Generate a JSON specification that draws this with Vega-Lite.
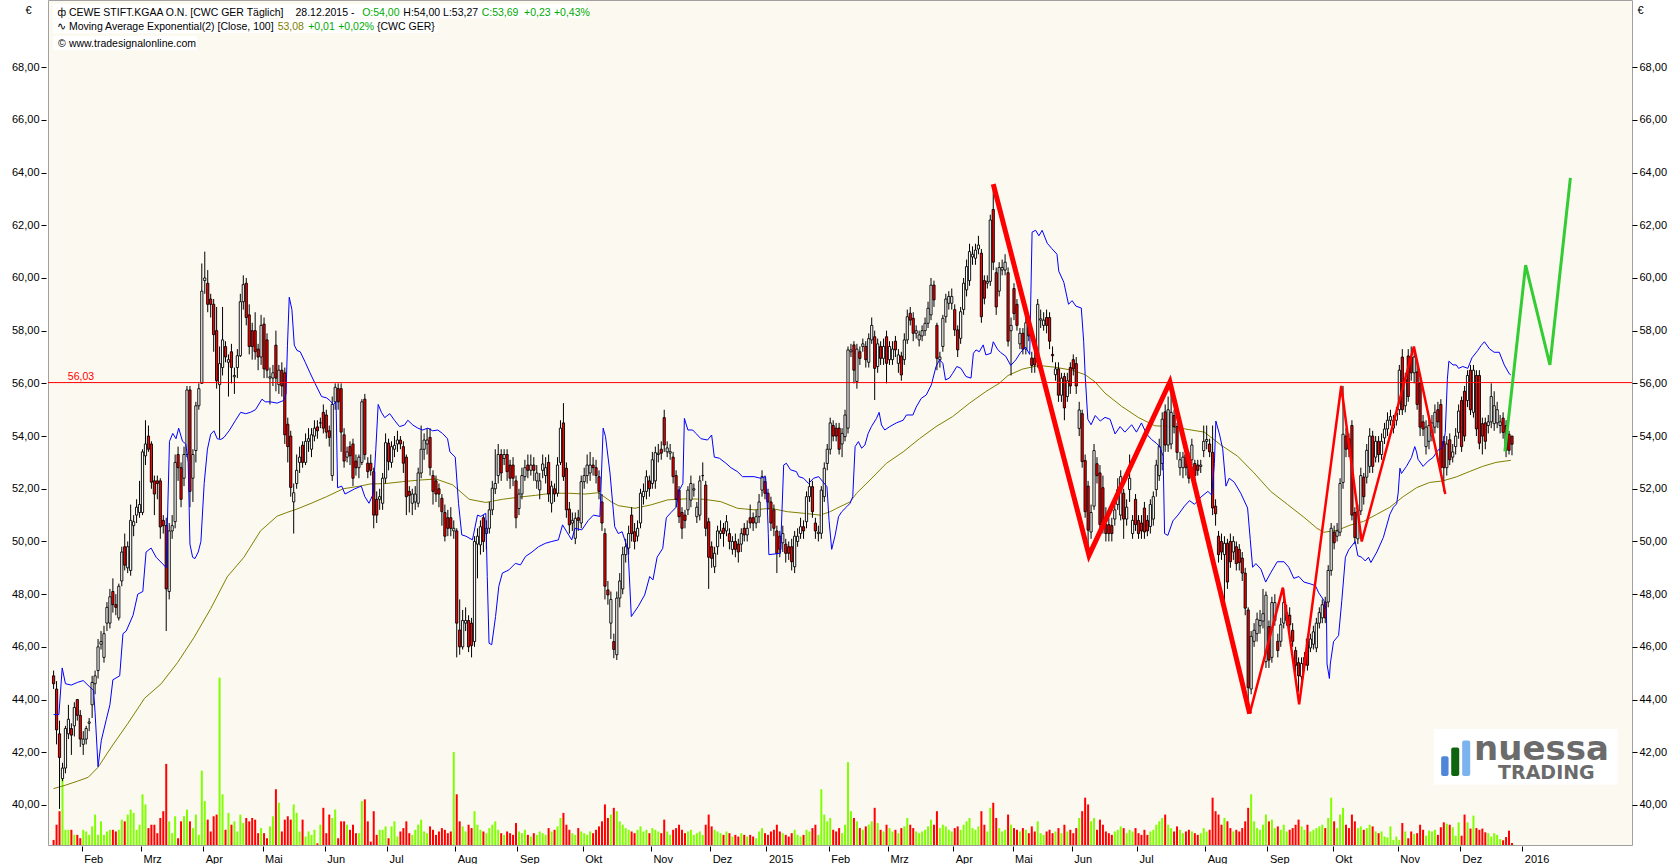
{
  "$schema": "https://vega.github.io/schema/vega-lite/v6.json",
  "description": "CEWE Stift.KGaA daily candles 2014-2015 with EMA(100), trailing band, volume, wave lines and projection",
  "width": 1584,
  "height": 845,
  "autosize": "none",
  "padding": {"left": 48, "top": 0, "right": 46, "bottom": 19},
  "background": "#ffffff",
  "config": {
    "font": "Liberation Sans",
    "view": {"fill": "#FCF9F1", "stroke": "#A0A0A0", "strokeWidth": 1},
    "axis": {
      "labelFont": "Liberation Sans", "labelFontSize": 11, "labelColor": "#000000",
      "tickColor": "#000000", "grid": false, "domain": false,
      "titleFont": "Liberation Sans", "titleFontSize": 11, "titleFontWeight": "normal", "titleColor": "#000000"
    }
  },
  "datasets": {
    "k": [
{"i":0,"o":44.9,"h":45.1,"l":44.4,"c":44.6,"v":3},
{"i":1,"o":44.4,"h":44.7,"l":42.3,"c":42.85,"v":12},
{"i":2,"o":42.7,"h":43.2,"l":39.85,"c":41.8,"v":20},
{"i":3,"o":41.0,"h":41.6,"l":40.9,"c":41.4,"v":45},
{"i":4,"o":41.4,"h":43.0,"l":41.2,"c":42.9,"v":9},
{"i":5,"o":42.7,"h":43.8,"l":42.5,"c":43.25,"v":9},
{"i":6,"o":42.9,"h":43.1,"l":41.9,"c":42.65,"v":9},
{"i":7,"o":43.0,"h":43.9,"l":42.6,"c":43.7,"v":6},
{"i":8,"o":44.0,"h":44.0,"l":43.2,"c":43.4,"v":6},
{"i":9,"o":43.4,"h":43.6,"l":42.2,"c":42.5,"v":4},
{"i":10,"o":42.3,"h":42.8,"l":41.9,"c":42.5,"v":9},
{"i":11,"o":42.5,"h":43.0,"l":42.3,"c":42.9,"v":8},
{"i":12,"o":43.1,"h":43.3,"l":42.8,"c":43.15,"v":6},
{"i":13,"o":43.8,"h":44.9,"l":43.3,"c":44.65,"v":11},
{"i":14,"o":44.6,"h":45.1,"l":44.2,"c":44.9,"v":18},
{"i":15,"o":45.1,"h":46.3,"l":44.8,"c":46.0,"v":6},
{"i":16,"o":46.1,"h":46.6,"l":45.9,"c":46.2,"v":14},
{"i":17,"o":45.6,"h":46.8,"l":45.4,"c":46.5,"v":6},
{"i":18,"o":46.9,"h":47.7,"l":46.6,"c":47.5,"v":8},
{"i":19,"o":46.9,"h":48.2,"l":46.7,"c":47.9,"v":9},
{"i":20,"o":48.1,"h":48.6,"l":47.3,"c":47.6,"v":9},
{"i":21,"o":47.6,"h":48.0,"l":47.2,"c":47.5,"v":8},
{"i":22,"o":47.1,"h":48.4,"l":47.0,"c":48.3,"v":9},
{"i":23,"o":48.5,"h":49.8,"l":48.3,"c":49.6,"v":15},
{"i":24,"o":49.8,"h":50.3,"l":48.9,"c":49.1,"v":14},
{"i":25,"o":49.0,"h":50.0,"l":48.8,"c":49.8,"v":18},
{"i":26,"o":48.9,"h":51.4,"l":48.7,"c":50.8,"v":21},
{"i":27,"o":50.6,"h":51.0,"l":50.2,"c":50.75,"v":19},
{"i":28,"o":51.0,"h":51.6,"l":50.7,"c":51.3,"v":9},
{"i":29,"o":51.1,"h":52.3,"l":50.9,"c":51.4,"v":12},
{"i":30,"o":51.1,"h":53.5,"l":51.0,"c":53.4,"v":30},
{"i":31,"o":53.25,"h":54.6,"l":52.9,"c":53.7,"v":24},
{"i":32,"o":54.0,"h":54.4,"l":53.4,"c":53.5,"v":10},
{"i":33,"o":53.7,"h":53.8,"l":52.0,"c":52.25,"v":12},
{"i":34,"o":52.3,"h":52.5,"l":51.0,"c":51.8,"v":12},
{"i":35,"o":52.3,"h":52.5,"l":51.6,"c":52.2,"v":7},
{"i":36,"o":52.3,"h":52.4,"l":50.1,"c":50.55,"v":16},
{"i":37,"o":50.8,"h":51.0,"l":50.3,"c":50.6,"v":20},
{"i":38,"o":50.6,"h":50.9,"l":46.6,"c":48.2,"v":48},
{"i":39,"o":48.1,"h":50.7,"l":47.8,"c":50.4,"v":14},
{"i":40,"o":50.4,"h":51.0,"l":50.1,"c":50.6,"v":7},
{"i":41,"o":50.75,"h":53.3,"l":50.5,"c":53.0,"v":17},
{"i":42,"o":53.3,"h":53.6,"l":52.3,"c":52.8,"v":4},
{"i":43,"o":52.8,"h":53.0,"l":51.3,"c":51.6,"v":14},
{"i":44,"o":52.4,"h":53.6,"l":52.1,"c":53.3,"v":17},
{"i":45,"o":53.3,"h":55.9,"l":53.2,"c":55.75,"v":21},
{"i":46,"o":55.75,"h":55.9,"l":51.3,"c":51.9,"v":14},
{"i":47,"o":52.4,"h":53.5,"l":51.5,"c":53.3,"v":10},
{"i":48,"o":53.45,"h":55.3,"l":53.0,"c":55.15,"v":18},
{"i":49,"o":55.15,"h":56.0,"l":55.0,"c":55.8,"v":6},
{"i":50,"o":56.0,"h":60.55,"l":56.0,"c":59.5,"v":44},
{"i":51,"o":59.9,"h":61.0,"l":59.4,"c":60.0,"v":26},
{"i":52,"o":59.8,"h":60.3,"l":58.7,"c":59.0,"v":15},
{"i":53,"o":59.2,"h":59.4,"l":58.5,"c":59.0,"v":8},
{"i":54,"o":59.0,"h":59.2,"l":57.2,"c":57.85,"v":17},
{"i":55,"o":58.0,"h":58.9,"l":55.8,"c":56.1,"v":18},
{"i":56,"o":55.95,"h":57.4,"l":53.9,"c":56.75,"v":99},
{"i":57,"o":56.6,"h":58.9,"l":56.3,"c":57.65,"v":30},
{"i":58,"o":57.4,"h":57.6,"l":56.8,"c":57.0,"v":9},
{"i":59,"o":56.8,"h":57.1,"l":55.5,"c":56.9,"v":19},
{"i":60,"o":57.2,"h":57.5,"l":56.0,"c":56.6,"v":12},
{"i":61,"o":56.25,"h":56.6,"l":55.6,"c":56.3,"v":14},
{"i":62,"o":56.6,"h":57.3,"l":56.2,"c":57.05,"v":8},
{"i":63,"o":57.05,"h":59.4,"l":57.0,"c":59.1,"v":18},
{"i":64,"o":59.1,"h":60.1,"l":58.8,"c":59.75,"v":13},
{"i":65,"o":59.8,"h":60.0,"l":58.2,"c":58.5,"v":16},
{"i":66,"o":58.6,"h":59.0,"l":57.1,"c":57.4,"v":14},
{"i":67,"o":58.0,"h":58.3,"l":56.9,"c":57.4,"v":16},
{"i":68,"o":58.0,"h":58.7,"l":56.9,"c":57.2,"v":15},
{"i":69,"o":57.3,"h":57.5,"l":56.5,"c":57.0,"v":7},
{"i":70,"o":57.0,"h":58.6,"l":56.7,"c":58.2,"v":10},
{"i":71,"o":58.25,"h":58.5,"l":56.2,"c":56.55,"v":7},
{"i":72,"o":57.65,"h":57.9,"l":56.2,"c":56.5,"v":4},
{"i":73,"o":56.2,"h":56.6,"l":55.2,"c":56.25,"v":11},
{"i":74,"o":56.2,"h":56.7,"l":55.9,"c":56.4,"v":17},
{"i":75,"o":57.45,"h":58.0,"l":55.7,"c":56.2,"v":33},
{"i":76,"o":55.95,"h":56.7,"l":55.6,"c":56.5,"v":25},
{"i":77,"o":56.5,"h":56.8,"l":55.5,"c":55.9,"v":8},
{"i":78,"o":56.4,"h":56.6,"l":53.7,"c":54.05,"v":15},
{"i":79,"o":54.45,"h":54.7,"l":53.0,"c":53.6,"v":17},
{"i":80,"o":54.0,"h":54.2,"l":51.7,"c":52.05,"v":15},
{"i":81,"o":51.5,"h":52.2,"l":50.3,"c":51.85,"v":24},
{"i":82,"o":52.2,"h":53.3,"l":52.0,"c":52.7,"v":19},
{"i":83,"o":53.0,"h":53.6,"l":52.6,"c":53.2,"v":8},
{"i":84,"o":53.65,"h":53.8,"l":52.8,"c":53.0,"v":15},
{"i":85,"o":53.0,"h":54.1,"l":52.9,"c":53.8,"v":5},
{"i":86,"o":53.8,"h":54.3,"l":53.4,"c":53.9,"v":8},
{"i":87,"o":53.5,"h":54.3,"l":53.2,"c":54.05,"v":6},
{"i":88,"o":54.0,"h":54.6,"l":53.8,"c":54.3,"v":9},
{"i":89,"o":54.35,"h":54.6,"l":53.9,"c":54.2,"v":1},
{"i":90,"o":54.5,"h":54.7,"l":54.3,"c":54.5,"v":12},
{"i":91,"o":54.9,"h":55.2,"l":54.1,"c":54.3,"v":22},
{"i":92,"o":54.8,"h":55.0,"l":53.9,"c":54.15,"v":7},
{"i":93,"o":54.2,"h":54.4,"l":53.6,"c":53.95,"v":18},
{"i":94,"o":52.5,"h":55.5,"l":52.3,"c":55.2,"v":16},
{"i":95,"o":55.3,"h":56.0,"l":55.0,"c":55.85,"v":21},
{"i":96,"o":55.8,"h":56.0,"l":55.0,"c":55.3,"v":4},
{"i":97,"o":55.8,"h":56.0,"l":53.4,"c":54.15,"v":14},
{"i":98,"o":54.05,"h":54.3,"l":52.8,"c":53.05,"v":14},
{"i":99,"o":53.2,"h":53.6,"l":53.0,"c":53.4,"v":12},
{"i":100,"o":53.6,"h":53.8,"l":52.9,"c":53.25,"v":9},
{"i":101,"o":53.7,"h":53.9,"l":52.1,"c":52.4,"v":12},
{"i":102,"o":53.05,"h":53.3,"l":52.5,"c":52.8,"v":7},
{"i":103,"o":52.8,"h":53.3,"l":52.4,"c":53.2,"v":7},
{"i":104,"o":53.0,"h":55.4,"l":52.9,"c":55.3,"v":26},
{"i":105,"o":55.4,"h":55.6,"l":53.1,"c":53.3,"v":27},
{"i":106,"o":52.97,"h":53.2,"l":52.4,"c":52.65,"v":14},
{"i":107,"o":52.97,"h":53.3,"l":52.5,"c":52.7,"v":2},
{"i":108,"o":52.65,"h":52.8,"l":50.5,"c":51.0,"v":20},
{"i":109,"o":51.6,"h":51.9,"l":50.7,"c":51.0,"v":6},
{"i":110,"o":51.6,"h":52.0,"l":51.2,"c":51.7,"v":9},
{"i":111,"o":51.45,"h":52.6,"l":51.2,"c":52.4,"v":9},
{"i":112,"o":52.4,"h":54.1,"l":52.2,"c":53.75,"v":11},
{"i":113,"o":53.73,"h":53.9,"l":52.7,"c":53.03,"v":4},
{"i":114,"o":53.0,"h":53.8,"l":52.8,"c":53.6,"v":11},
{"i":115,"o":53.5,"h":54.0,"l":53.2,"c":53.65,"v":14},
{"i":116,"o":53.7,"h":54.2,"l":53.4,"c":53.85,"v":5},
{"i":117,"o":53.85,"h":54.0,"l":53.5,"c":53.7,"v":8},
{"i":118,"o":53.6,"h":53.8,"l":52.6,"c":52.97,"v":10},
{"i":119,"o":53.2,"h":53.3,"l":51.0,"c":51.7,"v":14},
{"i":120,"o":51.9,"h":52.1,"l":51.1,"c":51.75,"v":7},
{"i":121,"o":51.45,"h":52.0,"l":51.0,"c":51.8,"v":6},
{"i":122,"o":51.5,"h":52.1,"l":51.2,"c":51.8,"v":9},
{"i":123,"o":51.45,"h":52.8,"l":51.3,"c":52.6,"v":12},
{"i":124,"o":52.6,"h":54.4,"l":52.4,"c":53.5,"v":15},
{"i":125,"o":53.5,"h":54.1,"l":53.1,"c":53.85,"v":8},
{"i":126,"o":53.7,"h":54.3,"l":53.3,"c":53.85,"v":7},
{"i":127,"o":53.95,"h":54.3,"l":52.5,"c":52.8,"v":11},
{"i":128,"o":52.5,"h":52.7,"l":51.4,"c":51.9,"v":9},
{"i":129,"o":52.3,"h":52.5,"l":51.5,"c":51.8,"v":6},
{"i":130,"o":52.0,"h":52.2,"l":51.3,"c":51.8,"v":8},
{"i":131,"o":51.64,"h":51.8,"l":50.6,"c":51.13,"v":10},
{"i":132,"o":51.1,"h":51.4,"l":50.0,"c":50.2,"v":9},
{"i":133,"o":50.9,"h":51.2,"l":50.2,"c":50.5,"v":7},
{"i":134,"o":50.9,"h":51.3,"l":50.2,"c":50.5,"v":8},
{"i":135,"o":50.4,"h":50.8,"l":50.1,"c":50.5,"v":55},
{"i":136,"o":50.4,"h":50.5,"l":45.6,"c":46.9,"v":30},
{"i":137,"o":46.64,"h":47.8,"l":45.7,"c":46.0,"v":14},
{"i":138,"o":46.0,"h":47.4,"l":45.9,"c":47.0,"v":11},
{"i":139,"o":46.9,"h":47.5,"l":46.6,"c":47.0,"v":8},
{"i":140,"o":47.0,"h":47.2,"l":45.8,"c":46.0,"v":12},
{"i":141,"o":46.9,"h":47.1,"l":45.6,"c":46.05,"v":10},
{"i":142,"o":46.2,"h":50.2,"l":46.0,"c":50.0,"v":20},
{"i":143,"o":49.9,"h":50.5,"l":48.6,"c":50.2,"v":12},
{"i":144,"o":49.87,"h":50.8,"l":49.5,"c":50.56,"v":9},
{"i":145,"o":50.9,"h":51.0,"l":49.6,"c":50.0,"v":8},
{"i":146,"o":50.3,"h":50.8,"l":49.7,"c":50.5,"v":7},
{"i":147,"o":50.5,"h":51.5,"l":50.3,"c":51.2,"v":10},
{"i":148,"o":51.2,"h":52.3,"l":51.0,"c":52.02,"v":12},
{"i":149,"o":52.0,"h":53.5,"l":51.8,"c":52.2,"v":14},
{"i":150,"o":52.5,"h":53.7,"l":52.2,"c":53.3,"v":9},
{"i":151,"o":53.3,"h":53.5,"l":52.3,"c":52.6,"v":7},
{"i":152,"o":53.15,"h":53.5,"l":52.9,"c":53.3,"v":6},
{"i":153,"o":53.3,"h":53.5,"l":52.3,"c":52.65,"v":8},
{"i":154,"o":52.9,"h":53.1,"l":52.0,"c":52.4,"v":7},
{"i":155,"o":52.9,"h":53.2,"l":52.1,"c":52.4,"v":6},
{"i":156,"o":52.3,"h":52.5,"l":50.5,"c":50.9,"v":13},
{"i":157,"o":51.25,"h":52.0,"l":51.0,"c":51.8,"v":8},
{"i":158,"o":51.8,"h":52.8,"l":51.6,"c":52.5,"v":7},
{"i":159,"o":52.46,"h":53.1,"l":52.3,"c":52.8,"v":9},
{"i":160,"o":52.9,"h":53.3,"l":52.4,"c":52.7,"v":6},
{"i":161,"o":52.7,"h":53.3,"l":52.5,"c":52.9,"v":5},
{"i":162,"o":52.9,"h":53.2,"l":52.3,"c":52.7,"v":7},
{"i":163,"o":52.3,"h":52.9,"l":52.0,"c":52.6,"v":6},
{"i":164,"o":51.96,"h":52.6,"l":51.6,"c":52.3,"v":8},
{"i":165,"o":52.7,"h":53.3,"l":52.4,"c":52.94,"v":7},
{"i":166,"o":52.5,"h":53.2,"l":52.2,"c":52.8,"v":6},
{"i":167,"o":53.0,"h":53.3,"l":51.5,"c":51.8,"v":10},
{"i":168,"o":51.45,"h":52.3,"l":51.1,"c":52.1,"v":8},
{"i":169,"o":52.0,"h":52.2,"l":51.5,"c":51.8,"v":9},
{"i":170,"o":51.83,"h":53.2,"l":51.7,"c":52.9,"v":11},
{"i":171,"o":53.0,"h":54.6,"l":52.9,"c":54.3,"v":16},
{"i":172,"o":54.5,"h":55.25,"l":52.3,"c":52.46,"v":19},
{"i":173,"o":52.78,"h":53.0,"l":50.9,"c":51.2,"v":12},
{"i":174,"o":51.23,"h":51.5,"l":50.3,"c":50.63,"v":9},
{"i":175,"o":50.7,"h":51.1,"l":50.4,"c":50.8,"v":7},
{"i":176,"o":50.12,"h":51.1,"l":49.9,"c":50.88,"v":6},
{"i":177,"o":50.9,"h":51.2,"l":50.4,"c":50.8,"v":10},
{"i":178,"o":50.7,"h":52.5,"l":50.5,"c":52.27,"v":8},
{"i":179,"o":52.27,"h":52.8,"l":52.0,"c":52.5,"v":7},
{"i":180,"o":52.5,"h":53.3,"l":52.2,"c":52.9,"v":6},
{"i":181,"o":52.6,"h":53.4,"l":52.3,"c":52.9,"v":8},
{"i":182,"o":52.9,"h":53.2,"l":52.5,"c":52.8,"v":7},
{"i":183,"o":52.8,"h":53.1,"l":52.2,"c":52.5,"v":9},
{"i":184,"o":52.46,"h":52.7,"l":51.6,"c":51.9,"v":11},
{"i":185,"o":51.5,"h":51.8,"l":50.4,"c":50.7,"v":14},
{"i":186,"o":50.3,"h":50.5,"l":47.8,"c":48.3,"v":24},
{"i":187,"o":48.16,"h":48.5,"l":47.6,"c":47.97,"v":16},
{"i":188,"o":46.9,"h":48.1,"l":46.3,"c":47.8,"v":18},
{"i":189,"o":46.2,"h":46.5,"l":45.57,"c":45.9,"v":22},
{"i":190,"o":45.7,"h":48.1,"l":45.5,"c":47.85,"v":20},
{"i":191,"o":47.85,"h":48.8,"l":47.5,"c":48.5,"v":14},
{"i":192,"o":48.2,"h":49.8,"l":48.0,"c":49.5,"v":12},
{"i":193,"o":49.5,"h":50.1,"l":49.2,"c":49.8,"v":10},
{"i":194,"o":49.75,"h":50.6,"l":49.5,"c":50.3,"v":9},
{"i":195,"o":51.0,"h":51.3,"l":50.0,"c":50.3,"v":8},
{"i":196,"o":50.37,"h":50.7,"l":49.7,"c":50.0,"v":7},
{"i":197,"o":50.2,"h":50.8,"l":50.0,"c":50.5,"v":9},
{"i":198,"o":50.7,"h":52.0,"l":50.5,"c":51.83,"v":11},
{"i":199,"o":51.7,"h":52.2,"l":51.4,"c":51.9,"v":8},
{"i":200,"o":51.9,"h":52.7,"l":51.6,"c":52.46,"v":9},
{"i":201,"o":52.3,"h":52.5,"l":51.7,"c":52.0,"v":7},
{"i":202,"o":52.2,"h":53.4,"l":52.0,"c":53.1,"v":10},
{"i":203,"o":52.3,"h":53.6,"l":52.0,"c":53.37,"v":9},
{"i":204,"o":53.3,"h":53.7,"l":53.0,"c":53.35,"v":8},
{"i":205,"o":53.5,"h":53.8,"l":53.1,"c":53.35,"v":7},
{"i":206,"o":54.7,"h":55.0,"l":53.4,"c":53.66,"v":15},
{"i":207,"o":53.4,"h":53.8,"l":53.2,"c":53.55,"v":8},
{"i":208,"o":53.35,"h":53.7,"l":53.1,"c":53.41,"v":6},
{"i":209,"o":53.2,"h":53.4,"l":52.2,"c":52.46,"v":9},
{"i":210,"o":52.5,"h":52.7,"l":51.3,"c":51.6,"v":10},
{"i":211,"o":51.95,"h":52.1,"l":50.7,"c":50.94,"v":12},
{"i":212,"o":51.1,"h":51.3,"l":50.1,"c":50.5,"v":9},
{"i":213,"o":51.0,"h":51.2,"l":50.5,"c":50.8,"v":7},
{"i":214,"o":51.2,"h":52.1,"l":51.0,"c":51.95,"v":8},
{"i":215,"o":51.57,"h":52.5,"l":51.3,"c":52.2,"v":9},
{"i":216,"o":51.95,"h":52.2,"l":51.7,"c":52.0,"v":6},
{"i":217,"o":50.94,"h":51.5,"l":50.7,"c":51.3,"v":7},
{"i":218,"o":51.0,"h":52.5,"l":50.8,"c":52.3,"v":8},
{"i":219,"o":52.5,"h":53.0,"l":52.3,"c":52.5,"v":6},
{"i":220,"o":52.14,"h":52.3,"l":50.2,"c":50.5,"v":12},
{"i":221,"o":50.75,"h":50.9,"l":48.2,"c":49.4,"v":18},
{"i":222,"o":49.8,"h":50.0,"l":49.0,"c":49.36,"v":11},
{"i":223,"o":49.04,"h":49.8,"l":48.8,"c":49.55,"v":9},
{"i":224,"o":49.8,"h":50.6,"l":49.5,"c":50.4,"v":8},
{"i":225,"o":50.3,"h":50.8,"l":50.1,"c":50.4,"v":7},
{"i":226,"o":50.5,"h":50.7,"l":49.8,"c":50.3,"v":6},
{"i":227,"o":50.4,"h":51.0,"l":50.2,"c":50.75,"v":8},
{"i":228,"o":50.3,"h":50.5,"l":49.7,"c":50.0,"v":7},
{"i":229,"o":49.7,"h":50.2,"l":49.5,"c":50.0,"v":5},
{"i":230,"o":50.0,"h":50.3,"l":49.4,"c":49.7,"v":6},
{"i":231,"o":49.9,"h":50.1,"l":49.2,"c":49.6,"v":5},
{"i":232,"o":49.9,"h":50.5,"l":49.6,"c":50.3,"v":7},
{"i":233,"o":50.5,"h":50.7,"l":50.0,"c":50.25,"v":6},
{"i":234,"o":50.25,"h":50.8,"l":50.0,"c":50.5,"v":5},
{"i":235,"o":50.9,"h":51.4,"l":50.5,"c":50.7,"v":6},
{"i":236,"o":50.9,"h":51.1,"l":50.4,"c":50.7,"v":5},
{"i":237,"o":50.7,"h":51.2,"l":50.5,"c":50.94,"v":4},
{"i":238,"o":50.94,"h":51.8,"l":50.7,"c":51.5,"v":8},
{"i":239,"o":51.95,"h":52.7,"l":51.7,"c":52.46,"v":10},
{"i":240,"o":52.27,"h":52.5,"l":51.6,"c":51.83,"v":7},
{"i":241,"o":51.83,"h":52.0,"l":51.2,"c":51.5,"v":6},
{"i":242,"o":51.5,"h":51.7,"l":50.4,"c":50.7,"v":8},
{"i":243,"o":51.2,"h":51.4,"l":50.2,"c":50.5,"v":9},
{"i":244,"o":50.4,"h":50.6,"l":48.8,"c":49.55,"v":12},
{"i":245,"o":50.2,"h":50.4,"l":49.4,"c":49.7,"v":8},
{"i":246,"o":49.95,"h":50.6,"l":49.6,"c":50.3,"v":7},
{"i":247,"o":49.9,"h":50.1,"l":49.2,"c":49.55,"v":6},
{"i":248,"o":49.8,"h":50.0,"l":49.3,"c":49.55,"v":5},
{"i":249,"o":49.8,"h":50.1,"l":48.9,"c":49.23,"v":7},
{"i":250,"o":49.04,"h":50.4,"l":48.8,"c":50.2,"v":9},
{"i":251,"o":50.0,"h":50.5,"l":49.8,"c":50.2,"v":6},
{"i":252,"o":50.3,"h":50.9,"l":50.1,"c":50.56,"v":5},
{"i":253,"o":50.56,"h":50.8,"l":50.1,"c":50.4,"v":6},
{"i":254,"o":50.75,"h":51.9,"l":50.5,"c":51.7,"v":9},
{"i":255,"o":51.7,"h":52.4,"l":51.5,"c":52.08,"v":8},
{"i":256,"o":52.08,"h":52.3,"l":50.9,"c":51.13,"v":10},
{"i":257,"o":50.7,"h":50.9,"l":50.1,"c":50.4,"v":12},
{"i":258,"o":50.3,"h":50.6,"l":50.0,"c":50.35,"v":6},
{"i":259,"o":50.31,"h":52.1,"l":50.1,"c":51.95,"v":33},
{"i":260,"o":51.7,"h":53.0,"l":51.5,"c":52.78,"v":18},
{"i":261,"o":52.96,"h":53.7,"l":52.7,"c":53.5,"v":14},
{"i":262,"o":53.5,"h":54.7,"l":53.3,"c":54.5,"v":16},
{"i":263,"o":54.4,"h":54.6,"l":53.8,"c":54.0,"v":9},
{"i":264,"o":54.3,"h":54.5,"l":53.8,"c":54.0,"v":8},
{"i":265,"o":54.3,"h":54.5,"l":53.3,"c":53.5,"v":10},
{"i":266,"o":53.7,"h":54.3,"l":53.2,"c":54.1,"v":7},
{"i":267,"o":53.98,"h":55.0,"l":53.8,"c":54.8,"v":12},
{"i":268,"o":54.3,"h":57.4,"l":54.1,"c":57.27,"v":49},
{"i":269,"o":57.2,"h":57.5,"l":57.0,"c":57.27,"v":20},
{"i":270,"o":57.46,"h":57.6,"l":56.0,"c":56.5,"v":16},
{"i":271,"o":56.07,"h":57.5,"l":55.8,"c":57.3,"v":14},
{"i":272,"o":57.2,"h":57.4,"l":56.7,"c":56.95,"v":10},
{"i":273,"o":57.4,"h":57.7,"l":57.2,"c":57.5,"v":9},
{"i":274,"o":57.4,"h":57.6,"l":56.6,"c":56.9,"v":11},
{"i":275,"o":56.8,"h":57.9,"l":56.6,"c":57.7,"v":12},
{"i":276,"o":57.65,"h":58.5,"l":57.5,"c":58.2,"v":14},
{"i":277,"o":57.77,"h":58.0,"l":55.37,"c":56.57,"v":22},
{"i":278,"o":56.64,"h":57.7,"l":56.4,"c":57.5,"v":13},
{"i":279,"o":57.4,"h":57.6,"l":56.7,"c":56.95,"v":9},
{"i":280,"o":56.95,"h":57.7,"l":56.7,"c":57.4,"v":8},
{"i":281,"o":57.77,"h":58.0,"l":56.0,"c":56.76,"v":12},
{"i":282,"o":56.9,"h":57.6,"l":56.7,"c":57.4,"v":10},
{"i":283,"o":56.9,"h":57.6,"l":56.7,"c":57.3,"v":8},
{"i":284,"o":57.6,"h":57.8,"l":57.0,"c":57.27,"v":9},
{"i":285,"o":56.76,"h":57.3,"l":56.4,"c":57.08,"v":7},
{"i":286,"o":57.04,"h":57.2,"l":56.1,"c":56.32,"v":10},
{"i":287,"o":56.9,"h":57.9,"l":56.7,"c":57.65,"v":11},
{"i":288,"o":57.65,"h":58.8,"l":57.5,"c":58.53,"v":16},
{"i":289,"o":58.66,"h":58.9,"l":58.2,"c":58.4,"v":12},
{"i":290,"o":58.47,"h":58.7,"l":57.6,"c":57.9,"v":10},
{"i":291,"o":57.9,"h":58.2,"l":57.7,"c":58.0,"v":8},
{"i":292,"o":57.65,"h":58.0,"l":57.4,"c":57.84,"v":7},
{"i":293,"o":57.8,"h":58.2,"l":57.6,"c":58.0,"v":8},
{"i":294,"o":58.0,"h":58.5,"l":57.8,"c":58.28,"v":9},
{"i":295,"o":58.28,"h":59.1,"l":58.1,"c":58.85,"v":11},
{"i":296,"o":58.6,"h":60.0,"l":58.4,"c":59.73,"v":15},
{"i":297,"o":59.73,"h":59.9,"l":58.9,"c":59.17,"v":12},
{"i":298,"o":58.2,"h":58.3,"l":56.5,"c":56.95,"v":20},
{"i":299,"o":56.9,"h":57.2,"l":56.6,"c":57.0,"v":10},
{"i":300,"o":57.4,"h":58.6,"l":57.2,"c":58.47,"v":12},
{"i":301,"o":58.53,"h":59.4,"l":58.3,"c":59.2,"v":11},
{"i":302,"o":59.04,"h":59.5,"l":58.8,"c":59.3,"v":9},
{"i":303,"o":59.04,"h":59.6,"l":58.8,"c":59.3,"v":8},
{"i":304,"o":58.8,"h":59.0,"l":57.8,"c":58.03,"v":10},
{"i":305,"o":58.03,"h":58.2,"l":57.0,"c":57.27,"v":11},
{"i":306,"o":57.71,"h":58.9,"l":57.5,"c":58.72,"v":9},
{"i":307,"o":58.8,"h":60.0,"l":58.6,"c":59.8,"v":12},
{"i":308,"o":59.55,"h":60.7,"l":59.3,"c":60.43,"v":14},
{"i":309,"o":59.9,"h":61.3,"l":59.7,"c":61.0,"v":16},
{"i":310,"o":60.8,"h":61.2,"l":60.5,"c":60.9,"v":10},
{"i":311,"o":60.75,"h":61.3,"l":60.5,"c":61.06,"v":9},
{"i":312,"o":61.1,"h":61.6,"l":60.9,"c":61.25,"v":11},
{"i":313,"o":60.94,"h":61.1,"l":58.3,"c":58.53,"v":20},
{"i":314,"o":59.9,"h":60.1,"l":59.0,"c":59.23,"v":12},
{"i":315,"o":59.8,"h":60.1,"l":59.6,"c":59.87,"v":8},
{"i":316,"o":59.87,"h":62.4,"l":59.7,"c":62.2,"v":22},
{"i":317,"o":62.6,"h":63.5,"l":60.3,"c":60.6,"v":25},
{"i":318,"o":60.2,"h":60.4,"l":58.6,"c":58.9,"v":16},
{"i":319,"o":59.5,"h":60.6,"l":59.3,"c":60.4,"v":10},
{"i":320,"o":60.3,"h":60.7,"l":60.1,"c":60.4,"v":8},
{"i":321,"o":60.3,"h":60.9,"l":60.1,"c":60.6,"v":9},
{"i":322,"o":60.2,"h":60.4,"l":57.4,"c":57.6,"v":18},
{"i":323,"o":58.0,"h":58.5,"l":56.3,"c":58.2,"v":12},
{"i":324,"o":59.6,"h":59.8,"l":58.4,"c":58.65,"v":10},
{"i":325,"o":59.0,"h":59.2,"l":58.0,"c":58.2,"v":9},
{"i":326,"o":57.5,"h":58.1,"l":57.3,"c":57.9,"v":8},
{"i":327,"o":57.9,"h":58.1,"l":57.1,"c":57.3,"v":10},
{"i":328,"o":57.3,"h":58.5,"l":57.1,"c":58.3,"v":9},
{"i":329,"o":58.2,"h":58.4,"l":57.6,"c":57.8,"v":7},
{"i":330,"o":56.96,"h":57.2,"l":56.4,"c":56.68,"v":11},
{"i":331,"o":56.96,"h":57.2,"l":56.4,"c":56.7,"v":8},
{"i":332,"o":56.8,"h":59.2,"l":56.6,"c":59.0,"v":14},
{"i":333,"o":58.4,"h":58.8,"l":58.1,"c":58.45,"v":7},
{"i":334,"o":58.2,"h":58.7,"l":58.0,"c":58.4,"v":6},
{"i":335,"o":58.5,"h":58.8,"l":57.9,"c":58.2,"v":8},
{"i":336,"o":58.5,"h":58.7,"l":57.3,"c":57.6,"v":9},
{"i":337,"o":57.1,"h":57.4,"l":56.8,"c":57.05,"v":7},
{"i":338,"o":56.33,"h":56.8,"l":56.1,"c":56.55,"v":8},
{"i":339,"o":56.55,"h":56.8,"l":55.3,"c":55.55,"v":10},
{"i":340,"o":55.55,"h":56.4,"l":55.3,"c":56.2,"v":7},
{"i":341,"o":56.26,"h":56.4,"l":54.6,"c":55.07,"v":12},
{"i":342,"o":55.5,"h":56.4,"l":55.3,"c":56.1,"v":8},
{"i":343,"o":56.6,"h":56.8,"l":55.6,"c":55.9,"v":9},
{"i":344,"o":56.9,"h":57.1,"l":56.3,"c":56.55,"v":7},
{"i":345,"o":56.75,"h":57.0,"l":55.6,"c":55.9,"v":10},
{"i":346,"o":54.29,"h":55.3,"l":54.0,"c":54.99,"v":16},
{"i":347,"o":54.85,"h":55.0,"l":52.8,"c":53.03,"v":20},
{"i":348,"o":53.07,"h":53.3,"l":50.9,"c":51.13,"v":28},
{"i":349,"o":52.1,"h":52.3,"l":49.45,"c":50.43,"v":24},
{"i":350,"o":50.36,"h":51.4,"l":50.1,"c":51.1,"v":14},
{"i":351,"o":51.34,"h":53.7,"l":51.2,"c":53.45,"v":16},
{"i":352,"o":52.95,"h":53.2,"l":52.2,"c":52.5,"v":9},
{"i":353,"o":52.6,"h":52.9,"l":50.3,"c":50.64,"v":15},
{"i":354,"o":52.04,"h":52.5,"l":50.3,"c":50.64,"v":12},
{"i":355,"o":50.64,"h":51.3,"l":50.0,"c":50.3,"v":8},
{"i":356,"o":50.64,"h":50.9,"l":50.0,"c":50.3,"v":7},
{"i":357,"o":50.6,"h":50.9,"l":50.0,"c":50.3,"v":6},
{"i":358,"o":50.85,"h":51.5,"l":50.6,"c":51.2,"v":8},
{"i":359,"o":51.4,"h":52.4,"l":51.2,"c":51.97,"v":9},
{"i":360,"o":51.0,"h":52.7,"l":50.8,"c":52.46,"v":11},
{"i":361,"o":51.83,"h":52.0,"l":50.1,"c":50.85,"v":10},
{"i":362,"o":50.85,"h":51.6,"l":50.6,"c":51.3,"v":7},
{"i":363,"o":51.97,"h":53.3,"l":51.5,"c":52.4,"v":9},
{"i":364,"o":50.3,"h":51.0,"l":50.1,"c":50.8,"v":8},
{"i":365,"o":51.6,"h":51.8,"l":50.4,"c":50.64,"v":10},
{"i":366,"o":50.8,"h":51.0,"l":50.1,"c":50.3,"v":7},
{"i":367,"o":50.7,"h":51.0,"l":50.1,"c":50.4,"v":6},
{"i":368,"o":51.27,"h":51.5,"l":50.1,"c":50.36,"v":9},
{"i":369,"o":50.8,"h":51.0,"l":50.2,"c":50.4,"v":6},
{"i":370,"o":50.57,"h":51.6,"l":50.3,"c":51.4,"v":8},
{"i":371,"o":50.85,"h":51.9,"l":50.6,"c":51.7,"v":9},
{"i":372,"o":51.97,"h":53.1,"l":51.7,"c":52.9,"v":12},
{"i":373,"o":52.5,"h":53.9,"l":52.3,"c":53.6,"v":14},
{"i":374,"o":52.96,"h":54.9,"l":52.7,"c":54.64,"v":16},
{"i":375,"o":54.92,"h":55.2,"l":53.4,"c":53.66,"v":18},
{"i":376,"o":53.66,"h":55.5,"l":53.4,"c":55.0,"v":12},
{"i":377,"o":53.7,"h":55.6,"l":53.5,"c":54.9,"v":10},
{"i":378,"o":54.78,"h":55.0,"l":54.1,"c":54.36,"v":8},
{"i":379,"o":54.36,"h":54.5,"l":53.1,"c":53.38,"v":11},
{"i":380,"o":52.8,"h":53.4,"l":52.5,"c":53.1,"v":9},
{"i":381,"o":52.8,"h":53.4,"l":52.4,"c":53.2,"v":7},
{"i":382,"o":53.3,"h":53.5,"l":52.5,"c":52.8,"v":8},
{"i":383,"o":53.24,"h":53.4,"l":52.2,"c":52.4,"v":9},
{"i":384,"o":53.1,"h":53.9,"l":52.9,"c":53.66,"v":8},
{"i":385,"o":52.96,"h":53.1,"l":52.2,"c":52.5,"v":7},
{"i":386,"o":52.9,"h":53.1,"l":52.5,"c":52.7,"v":6},
{"i":387,"o":52.85,"h":53.1,"l":52.6,"c":52.9,"v":7},
{"i":388,"o":53.45,"h":54.4,"l":53.2,"c":53.8,"v":10},
{"i":389,"o":53.8,"h":54.4,"l":53.5,"c":53.87,"v":8},
{"i":390,"o":53.7,"h":53.9,"l":53.2,"c":53.4,"v":9},
{"i":391,"o":53.38,"h":54.4,"l":51.0,"c":51.27,"v":28},
{"i":392,"o":51.34,"h":51.6,"l":50.6,"c":51.05,"v":20},
{"i":393,"o":50.2,"h":50.4,"l":49.2,"c":49.5,"v":18},
{"i":394,"o":50.0,"h":50.3,"l":49.3,"c":49.6,"v":12},
{"i":395,"o":49.5,"h":50.2,"l":47.75,"c":49.93,"v":16},
{"i":396,"o":49.93,"h":50.1,"l":48.2,"c":48.46,"v":14},
{"i":397,"o":50.0,"h":50.3,"l":49.0,"c":49.23,"v":10},
{"i":398,"o":49.6,"h":50.2,"l":49.3,"c":50.0,"v":8},
{"i":399,"o":49.8,"h":50.0,"l":48.9,"c":49.16,"v":9},
{"i":400,"o":49.7,"h":49.9,"l":48.9,"c":49.2,"v":8},
{"i":401,"o":49.37,"h":49.6,"l":48.5,"c":48.8,"v":10},
{"i":402,"o":48.8,"h":49.0,"l":47.2,"c":47.47,"v":14},
{"i":403,"o":47.4,"h":47.5,"l":43.6,"c":44.45,"v":22},
{"i":404,"o":44.4,"h":46.6,"l":44.2,"c":46.4,"v":30},
{"i":405,"o":46.21,"h":46.9,"l":46.0,"c":46.63,"v":14},
{"i":406,"o":46.5,"h":47.3,"l":46.2,"c":47.05,"v":10},
{"i":407,"o":46.8,"h":47.4,"l":46.5,"c":47.0,"v":9},
{"i":408,"o":46.98,"h":48.2,"l":46.7,"c":47.26,"v":12},
{"i":409,"o":45.44,"h":48.1,"l":45.2,"c":47.96,"v":18},
{"i":410,"o":46.77,"h":47.0,"l":45.2,"c":45.5,"v":14},
{"i":411,"o":45.6,"h":47.9,"l":45.4,"c":47.68,"v":15},
{"i":412,"o":47.0,"h":48.0,"l":46.8,"c":47.68,"v":10},
{"i":413,"o":46.21,"h":46.5,"l":45.6,"c":45.86,"v":11},
{"i":414,"o":46.21,"h":47.1,"l":46.0,"c":46.84,"v":9},
{"i":415,"o":46.9,"h":48.2,"l":46.7,"c":47.68,"v":12},
{"i":416,"o":47.0,"h":47.6,"l":46.8,"c":47.3,"v":8},
{"i":417,"o":47.2,"h":47.5,"l":46.5,"c":46.84,"v":9},
{"i":418,"o":46.63,"h":46.9,"l":46.0,"c":46.21,"v":10},
{"i":419,"o":45.86,"h":46.0,"l":45.0,"c":45.3,"v":12},
{"i":420,"o":45.4,"h":45.6,"l":44.3,"c":44.9,"v":15},
{"i":421,"o":44.87,"h":45.6,"l":44.6,"c":45.37,"v":11},
{"i":422,"o":45.3,"h":45.8,"l":45.1,"c":45.6,"v":9},
{"i":423,"o":46.3,"h":46.4,"l":45.1,"c":45.3,"v":12},
{"i":424,"o":45.96,"h":46.5,"l":45.8,"c":46.3,"v":8},
{"i":425,"o":46.1,"h":46.8,"l":45.9,"c":46.57,"v":9},
{"i":426,"o":45.96,"h":47.1,"l":45.8,"c":46.9,"v":10},
{"i":427,"o":46.9,"h":47.5,"l":46.7,"c":47.3,"v":11},
{"i":428,"o":47.1,"h":47.8,"l":46.9,"c":47.6,"v":12},
{"i":429,"o":47.7,"h":47.9,"l":46.9,"c":47.1,"v":10},
{"i":430,"o":47.7,"h":49.1,"l":47.5,"c":48.9,"v":16},
{"i":431,"o":48.9,"h":50.7,"l":48.7,"c":50.5,"v":28},
{"i":432,"o":50.35,"h":50.6,"l":49.7,"c":49.95,"v":14},
{"i":433,"o":50.2,"h":50.7,"l":50.0,"c":50.4,"v":10},
{"i":434,"o":50.35,"h":52.4,"l":50.2,"c":52.2,"v":18},
{"i":435,"o":52.24,"h":55.9,"l":52.0,"c":54.07,"v":22},
{"i":436,"o":54.0,"h":54.3,"l":53.2,"c":53.5,"v":12},
{"i":437,"o":53.9,"h":54.1,"l":53.2,"c":53.5,"v":10},
{"i":438,"o":54.4,"h":54.6,"l":50.8,"c":51.0,"v":18},
{"i":439,"o":51.1,"h":51.3,"l":49.9,"c":50.15,"v":14},
{"i":440,"o":50.1,"h":51.4,"l":49.9,"c":51.16,"v":10},
{"i":441,"o":51.16,"h":52.8,"l":51.0,"c":52.5,"v":11},
{"i":442,"o":52.44,"h":52.6,"l":51.4,"c":51.7,"v":9},
{"i":443,"o":52.44,"h":53.7,"l":52.2,"c":53.46,"v":10},
{"i":444,"o":52.85,"h":54.3,"l":52.6,"c":54.0,"v":12},
{"i":445,"o":54.0,"h":54.2,"l":52.6,"c":52.85,"v":11},
{"i":446,"o":53.2,"h":54.0,"l":53.0,"c":53.8,"v":8},
{"i":447,"o":53.8,"h":54.0,"l":53.0,"c":53.3,"v":7},
{"i":448,"o":53.3,"h":54.1,"l":53.1,"c":53.8,"v":8},
{"i":449,"o":53.93,"h":54.5,"l":53.7,"c":54.27,"v":5},
{"i":450,"o":54.27,"h":54.9,"l":54.0,"c":54.6,"v":4.5},
{"i":451,"o":54.6,"h":55.0,"l":54.4,"c":54.74,"v":11},
{"i":452,"o":54.3,"h":54.8,"l":54.1,"c":54.6,"v":3},
{"i":453,"o":54.6,"h":55.1,"l":54.4,"c":54.88,"v":5},
{"i":454,"o":55.0,"h":56.7,"l":54.8,"c":56.5,"v":3},
{"i":455,"o":57.0,"h":57.3,"l":54.8,"c":55.0,"v":13},
{"i":456,"o":55.15,"h":56.4,"l":54.9,"c":56.16,"v":8},
{"i":457,"o":57.04,"h":57.3,"l":55.3,"c":55.5,"v":4},
{"i":458,"o":57.0,"h":57.4,"l":56.1,"c":56.4,"v":8},
{"i":459,"o":56.4,"h":57.3,"l":56.0,"c":57.0,"v":6.5},
{"i":460,"o":56.43,"h":56.8,"l":55.0,"c":55.2,"v":7},
{"i":461,"o":56.0,"h":56.2,"l":54.0,"c":54.34,"v":12},
{"i":462,"o":54.54,"h":54.8,"l":54.0,"c":54.27,"v":9},
{"i":463,"o":53.6,"h":54.6,"l":53.3,"c":54.34,"v":5.5},
{"i":464,"o":53.8,"h":54.7,"l":53.5,"c":54.4,"v":8.5},
{"i":465,"o":54.0,"h":54.8,"l":53.8,"c":54.5,"v":8},
{"i":466,"o":54.34,"h":55.2,"l":54.1,"c":54.9,"v":9},
{"i":467,"o":55.0,"h":55.3,"l":54.3,"c":54.54,"v":6},
{"i":468,"o":55.2,"h":55.4,"l":52.5,"c":52.8,"v":10.5},
{"i":469,"o":53.8,"h":54.0,"l":51.9,"c":52.8,"v":13.4},
{"i":470,"o":52.8,"h":54.0,"l":52.5,"c":53.7,"v":12.6},
{"i":471,"o":53.86,"h":54.1,"l":52.9,"c":53.1,"v":12},
{"i":472,"o":53.2,"h":53.7,"l":53.0,"c":53.4,"v":10.5},
{"i":473,"o":53.6,"h":54.3,"l":53.3,"c":54.0,"v":5.5},
{"i":474,"o":54.14,"h":55.2,"l":53.9,"c":54.95,"v":13.4},
{"i":475,"o":55.35,"h":55.5,"l":53.4,"c":53.6,"v":5.5},
{"i":476,"o":55.7,"h":55.9,"l":53.8,"c":54.0,"v":18},
{"i":477,"o":55.35,"h":56.5,"l":55.1,"c":56.3,"v":13.4},
{"i":478,"o":56.5,"h":56.7,"l":54.8,"c":55.0,"v":9.7},
{"i":479,"o":54.9,"h":56.7,"l":54.7,"c":56.5,"v":17.4},
{"i":480,"o":56.3,"h":56.5,"l":54.0,"c":54.27,"v":10},
{"i":481,"o":56.3,"h":56.5,"l":53.5,"c":53.73,"v":9},
{"i":482,"o":54.47,"h":54.7,"l":53.3,"c":54.0,"v":9.7},
{"i":483,"o":54.5,"h":54.7,"l":53.5,"c":53.8,"v":7.5},
{"i":484,"o":54.4,"h":54.8,"l":54.1,"c":54.54,"v":7},
{"i":485,"o":54.54,"h":56.0,"l":54.3,"c":55.5,"v":5},
{"i":486,"o":54.47,"h":55.7,"l":54.2,"c":55.15,"v":7},
{"i":487,"o":54.5,"h":55.3,"l":54.3,"c":55.0,"v":6},
{"i":488,"o":54.4,"h":54.8,"l":54.1,"c":54.54,"v":3.5},
{"i":489,"o":54.68,"h":54.9,"l":53.9,"c":54.14,"v":2.8},
{"i":490,"o":54.4,"h":54.6,"l":53.2,"c":53.46,"v":4.7},
{"i":491,"o":54.07,"h":54.2,"l":53.3,"c":53.46,"v":8.5},
{"i":492,"o":54.0,"h":54.0,"l":53.27,"c":53.69,"v":1.2}
    ],
    "band": [
{"i":0,"b":43.43},{"i":1.8,"b":43.43},{"i":2.9,"b":45.2},{"i":4,"b":44.6},{"i":6,"b":44.55},{"i":8,"b":44.65},{"i":10,"b":44.72},{"i":12,"b":44.5},{"i":13.5,"b":44.35},{"i":14,"b":43.5},{"i":15,"b":41.45},{"i":16.1,"b":42.45},{"i":17.8,"b":43.25},{"i":19,"b":43.8},{"i":20,"b":44.75},{"i":22.3,"b":44.9},{"i":23.4,"b":46.5},{"i":24.5,"b":46.6},{"i":26.8,"b":47.2},{"i":28.4,"b":48.0},{"i":30.1,"b":48.1},{"i":31.2,"b":49.6},{"i":32.9,"b":49.75},{"i":34.6,"b":49.4},{"i":36.8,"b":49.15},{"i":38,"b":49.0},{"i":39.1,"b":53.8},{"i":40.2,"b":54.1},{"i":41.3,"b":53.9},{"i":42.2,"b":54.3},{"i":43.5,"b":53.8},{"i":44.6,"b":53.7},{"i":45.4,"b":53.0},{"i":46,"b":49.9},{"i":46.9,"b":49.4},{"i":47.7,"b":49.35},{"i":48.8,"b":49.6},{"i":49.7,"b":50.0},{"i":50.8,"b":52.2},{"i":51.9,"b":53.5},{"i":53,"b":54.07},{"i":54.1,"b":54.2},{"i":55.2,"b":53.9},{"i":56.4,"b":53.87},{"i":57.5,"b":53.95},{"i":59.2,"b":54.2},{"i":61.4,"b":54.6},{"i":63.1,"b":54.9},{"i":64.8,"b":54.85},{"i":66.4,"b":54.9},{"i":68.1,"b":55.0},{"i":70.3,"b":55.4},{"i":71.4,"b":55.3},{"i":73.1,"b":55.3},{"i":75.4,"b":55.25},{"i":77.6,"b":55.35},{"i":78.4,"b":55.6},{"i":78.9,"b":57.45},{"i":79.5,"b":59.27},{"i":80.4,"b":58.8},{"i":81.2,"b":57.45},{"i":82.1,"b":57.25},{"i":83.2,"b":57.2},{"i":84.9,"b":56.8},{"i":86.5,"b":56.4},{"i":88.2,"b":56.0},{"i":90.4,"b":55.5},{"i":92.1,"b":55.45},{"i":93.2,"b":55.35},{"i":94.4,"b":55.2},{"i":95.3,"b":55.3},{"i":95.8,"b":52.04},{"i":97.2,"b":52.1},{"i":98.3,"b":51.8},{"i":100,"b":51.9},{"i":101.6,"b":52.0},{"i":103.8,"b":52.1},{"i":105,"b":51.7},{"i":106.4,"b":51.45},{"i":107.8,"b":51.8},{"i":108.7,"b":53.5},{"i":109.5,"b":55.2},{"i":110.6,"b":54.9},{"i":111.7,"b":54.7},{"i":113.4,"b":54.85},{"i":115,"b":54.6},{"i":116.7,"b":54.36},{"i":118.4,"b":54.42},{"i":119.5,"b":54.6},{"i":121.2,"b":54.42},{"i":122.9,"b":54.3},{"i":124.5,"b":54.23},{"i":126.2,"b":54.3},{"i":127.9,"b":54.2},{"i":129.6,"b":54.23},{"i":131.2,"b":54.1},{"i":132.9,"b":53.9},{"i":133.7,"b":53.4},{"i":135.5,"b":53.2},{"i":136.6,"b":51.45},{"i":137.7,"b":50.25},{"i":139.1,"b":50.2},{"i":141.3,"b":50.06},{"i":143,"b":51.0},{"i":144.1,"b":50.95},{"i":145.8,"b":51.07},{"i":146.3,"b":48.67},{"i":146.9,"b":46.14},{"i":147.8,"b":46.08},{"i":149.1,"b":47.15},{"i":150.2,"b":48.3},{"i":151.4,"b":48.8},{"i":153.6,"b":48.92},{"i":155.8,"b":49.17},{"i":157.5,"b":49.11},{"i":159.2,"b":49.43},{"i":161.4,"b":49.6},{"i":163.6,"b":49.8},{"i":165.9,"b":49.93},{"i":168.1,"b":50.0},{"i":170.3,"b":50.06},{"i":171.7,"b":50.63},{"i":173.1,"b":50.37},{"i":174.8,"b":50.06},{"i":175.9,"b":50.5},{"i":178.2,"b":50.44},{"i":180.4,"b":50.8},{"i":182.1,"b":51.0},{"i":184.3,"b":50.95},{"i":185.4,"b":54.3},{"i":186.2,"b":53.98},{"i":187.7,"b":52.6},{"i":189.3,"b":50.56},{"i":190.5,"b":50.3},{"i":191.8,"b":50.37},{"i":193.8,"b":49.68},{"i":194.9,"b":47.15},{"i":197.2,"b":47.53},{"i":199.4,"b":47.97},{"i":201.1,"b":48.67},{"i":202.2,"b":48.54},{"i":203.6,"b":49.4},{"i":205.5,"b":49.74},{"i":206.7,"b":50.9},{"i":208.3,"b":51.1},{"i":210,"b":51.3},{"i":211.1,"b":51.95},{"i":212.3,"b":52.2},{"i":212.8,"b":54.67},{"i":214,"b":54.23},{"i":215.6,"b":54.23},{"i":216.7,"b":54.1},{"i":218.4,"b":53.9},{"i":220.6,"b":53.85},{"i":222,"b":54.04},{"i":222.9,"b":53.2},{"i":224.6,"b":53.16},{"i":226.8,"b":52.97},{"i":228.5,"b":52.8},{"i":230.7,"b":52.65},{"i":232.4,"b":52.46},{"i":236.3,"b":52.46},{"i":238.5,"b":52.4},{"i":240.2,"b":52.46},{"i":240.8,"b":51.26},{"i":241.1,"b":50.31},{"i":241.3,"b":49.5},{"i":245.2,"b":49.55},{"i":246.3,"b":52.9},{"i":247.2,"b":52.97},{"i":248.6,"b":52.72},{"i":250.6,"b":52.65},{"i":251.4,"b":52.46},{"i":253,"b":52.4},{"i":254.7,"b":52.2},{"i":256.4,"b":52.4},{"i":258.1,"b":52.46},{"i":259.5,"b":52.27},{"i":260.9,"b":52.08},{"i":261.6,"b":50.8},{"i":262.5,"b":49.7},{"i":263.7,"b":50.25},{"i":264.8,"b":50.94},{"i":265.9,"b":51.13},{"i":267.6,"b":51.32},{"i":268.7,"b":51.45},{"i":269.6,"b":51.7},{"i":270.4,"b":53.6},{"i":271.5,"b":53.79},{"i":272.6,"b":53.54},{"i":273.7,"b":53.66},{"i":274.8,"b":54.1},{"i":275.9,"b":54.36},{"i":277.6,"b":54.67},{"i":278.5,"b":54.9},{"i":279.3,"b":54.42},{"i":280.4,"b":54.23},{"i":282.1,"b":54.36},{"i":284.3,"b":54.5},{"i":286.6,"b":54.6},{"i":287.7,"b":54.8},{"i":289.9,"b":54.8},{"i":291,"b":55.1},{"i":292.7,"b":55.43},{"i":294.4,"b":55.56},{"i":296.1,"b":55.94},{"i":297.7,"b":56.64},{"i":298.9,"b":56.9},{"i":300,"b":56.76},{"i":300.9,"b":56.13},{"i":302.2,"b":56.2},{"i":303.3,"b":56.38},{"i":304.7,"b":56.64},{"i":306.1,"b":56.57},{"i":307.8,"b":56.26},{"i":309.5,"b":56.2},{"i":310.3,"b":57.14},{"i":311.2,"b":57.27},{"i":312.3,"b":57.2},{"i":313.6,"b":57.46},{"i":314.5,"b":57.08},{"i":316.2,"b":57.14},{"i":317,"b":57.58},{"i":318.4,"b":57.3},{"i":319.5,"b":57.17},{"i":321.2,"b":57.03},{"i":322.9,"b":56.68},{"i":324.6,"b":56.89},{"i":326.2,"b":57.17},{"i":327.9,"b":57.38},{"i":329.3,"b":57.1},{"i":330.1,"b":61.74},{"i":331.3,"b":61.81},{"i":332.4,"b":61.6},{"i":333.5,"b":61.81},{"i":335.2,"b":61.32},{"i":336.8,"b":61.11},{"i":338.5,"b":60.9},{"i":339.1,"b":60.26},{"i":340.8,"b":59.84},{"i":342.4,"b":59.0},{"i":343.6,"b":59.14},{"i":344.9,"b":58.93},{"i":346.7,"b":58.86},{"i":347.5,"b":57.6},{"i":348,"b":56.33},{"i":348.9,"b":54.64},{"i":350,"b":54.43},{"i":351.4,"b":54.78},{"i":353.1,"b":54.57},{"i":354.7,"b":54.71},{"i":356.4,"b":54.64},{"i":358.1,"b":54.08},{"i":359.8,"b":54.36},{"i":361.4,"b":54.15},{"i":363.7,"b":54.43},{"i":365.3,"b":54.15},{"i":367,"b":54.5},{"i":368.7,"b":54.08},{"i":370.4,"b":53.87},{"i":372,"b":53.73},{"i":373.2,"b":53.59},{"i":374.3,"b":53.24},{"i":374.8,"b":50.3},{"i":375.9,"b":50.23},{"i":377.6,"b":50.78},{"i":379.3,"b":51.0},{"i":381.5,"b":51.34},{"i":383.2,"b":51.55},{"i":384.9,"b":51.41},{"i":387.1,"b":51.69},{"i":389.4,"b":51.9},{"i":390.7,"b":51.76},{"i":391.6,"b":52.96},{"i":392.1,"b":54.57},{"i":393.3,"b":54.08},{"i":394.4,"b":53.52},{"i":395.5,"b":52.1},{"i":396.6,"b":52.4},{"i":398.3,"b":52.25},{"i":400.5,"b":51.83},{"i":402.8,"b":51.27},{"i":403.7,"b":50.08},{"i":404.5,"b":49.02},{"i":405.6,"b":49.16},{"i":407.3,"b":48.95},{"i":408.9,"b":48.46},{"i":410.6,"b":48.81},{"i":412.8,"b":49.23},{"i":415.1,"b":49.23},{"i":416.7,"b":49.02},{"i":418.4,"b":48.6},{"i":420.1,"b":48.67},{"i":421.8,"b":48.46},{"i":424,"b":48.39},{"i":425.7,"b":48.32},{"i":426.8,"b":48.05},{"i":428.5,"b":47.77},{"i":429.4,"b":47.4},{"i":429.6,"b":45.35},{"i":430.4,"b":44.8},{"i":430.7,"b":45.35},{"i":431.8,"b":46.2},{"i":433.5,"b":46.43},{"i":434.6,"b":47.77},{"i":435.8,"b":49.4},{"i":436.9,"b":49.68},{"i":439.1,"b":50.0},{"i":440,"b":49.46},{"i":441.3,"b":49.4},{"i":442.5,"b":49.26},{"i":443.6,"b":49.4},{"i":444.4,"b":49.2},{"i":446.4,"b":49.6},{"i":448.6,"b":50.15},{"i":450.8,"b":51.03},{"i":452,"b":51.3},{"i":453.1,"b":51.43},{"i":453.6,"b":51.84},{"i":454.2,"b":52.78},{"i":454.7,"b":52.58},{"i":456.4,"b":52.85},{"i":458.1,"b":53.19},{"i":459.2,"b":53.6},{"i":459.8,"b":53.4},{"i":460.3,"b":53.12},{"i":462,"b":52.85},{"i":463.7,"b":53.05},{"i":465.4,"b":53.19},{"i":467,"b":53.46},{"i":468.7,"b":53.6},{"i":469.5,"b":54.14},{"i":470.2,"b":56.16},{"i":470.7,"b":56.84},{"i":472.1,"b":56.7},{"i":473.2,"b":56.7},{"i":474,"b":56.57},{"i":475.4,"b":56.64},{"i":477.1,"b":56.57},{"i":478.5,"b":56.97},{"i":480.4,"b":57.24},{"i":481.6,"b":57.44},{"i":482.7,"b":57.58},{"i":484.4,"b":57.31},{"i":486,"b":57.18},{"i":487.7,"b":57.18},{"i":489.4,"b":56.7},{"i":491.1,"b":56.36},{"i":491.6,"b":56.32}
    ],
    "ema": [
{"i":0,"m":40.62},{"i":4,"m":40.75},{"i":8,"m":40.9},{"i":11.7,"m":41.05},{"i":15,"m":41.43},{"i":19.5,"m":42.2},{"i":25.1,"m":43.1},{"i":30.7,"m":44.05},{"i":36.3,"m":44.6},{"i":41.8,"m":45.4},{"i":47.4,"m":46.36},{"i":53,"m":47.45},{"i":58.6,"m":48.66},{"i":64.2,"m":49.4},{"i":69.8,"m":50.4},{"i":75.4,"m":50.96},{"i":78.7,"m":51.1},{"i":82.1,"m":51.23},{"i":86.5,"m":51.43},{"i":92.1,"m":51.7},{"i":97.7,"m":52.0},{"i":103.3,"m":52.1},{"i":106.7,"m":52.18},{"i":112.2,"m":52.2},{"i":117.8,"m":52.27},{"i":123.4,"m":52.33},{"i":129,"m":52.37},{"i":134.6,"m":52.15},{"i":140.2,"m":51.6},{"i":145.8,"m":51.48},{"i":151.4,"m":51.6},{"i":156.9,"m":51.68},{"i":162.5,"m":51.75},{"i":168.1,"m":51.83},{"i":173.7,"m":51.83},{"i":179.3,"m":51.8},{"i":183.8,"m":51.85},{"i":188.2,"m":51.5},{"i":190.5,"m":51.36},{"i":196.1,"m":51.26},{"i":201.6,"m":51.39},{"i":207.2,"m":51.58},{"i":214,"m":51.62},{"i":219.5,"m":51.6},{"i":225.1,"m":51.51},{"i":230.7,"m":51.26},{"i":236.3,"m":51.2},{"i":241.9,"m":51.26},{"i":247.5,"m":51.13},{"i":253,"m":51.07},{"i":258.6,"m":51.0},{"i":262,"m":51.13},{"i":264.2,"m":51.26},{"i":268.7,"m":51.5},{"i":270.9,"m":51.83},{"i":275.4,"m":52.33},{"i":281,"m":52.97},{"i":286.6,"m":53.4},{"i":292.1,"m":53.9},{"i":297.7,"m":54.36},{"i":303.3,"m":54.74},{"i":308.9,"m":55.24},{"i":314.5,"m":55.69},{"i":319,"m":56.0},{"i":322,"m":56.3},{"i":326.8,"m":56.54},{"i":332.4,"m":56.68},{"i":338,"m":56.61},{"i":343.6,"m":56.5},{"i":348,"m":56.33},{"i":351.4,"m":56.05},{"i":354.7,"m":55.63},{"i":360.3,"m":55.13},{"i":365.9,"m":54.71},{"i":371.5,"m":54.39},{"i":377.1,"m":54.36},{"i":382.7,"m":54.25},{"i":388.2,"m":54.15},{"i":393.8,"m":53.66},{"i":399.4,"m":53.24},{"i":405,"m":52.6},{"i":410.6,"m":51.9},{"i":416.2,"m":51.41},{"i":421.8,"m":50.92},{"i":426.2,"m":50.5},{"i":428.5,"m":50.35},{"i":433,"m":50.42},{"i":437.4,"m":50.62},{"i":441.9,"m":50.76},{"i":446.4,"m":51.03},{"i":450.8,"m":51.3},{"i":455.3,"m":51.7},{"i":459.8,"m":52.04},{"i":464.2,"m":52.24},{"i":468.7,"m":52.3},{"i":473.2,"m":52.45},{"i":477.6,"m":52.65},{"i":482.1,"m":52.85},{"i":486.6,"m":53.0},{"i":491.6,"m":53.08}
    ],
    "waveA": [{"i":317.0,"p":63.56},{"i":349.3,"p":49.47},{"i":376.6,"p":56.05},{"i":403.5,"p":43.46}],
    "waveB": [{"i":403.5,"p":43.46},{"i":414.7,"p":48.25},{"i":420.2,"p":43.82},{"i":434.4,"p":55.9},{"i":441.3,"p":50.0},{"i":458.9,"p":57.4},{"i":469.5,"p":51.8}],
    "proj": [{"i":489.6,"p":53.42},{"i":496.6,"p":60.49},{"i":504.8,"p":56.7},{"i":511.7,"p":63.8}],
    "bg": [
      {"i":-0.2,"i2":179.5,"p":69.87,"p2":70.4},
      {"i":-0.2,"i2":129.5,"p":69.3,"p2":69.83},
      {"i":-0.2,"i2":48.4,"p":68.65,"p2":69.18},
      {"i":465.6,"i2":527.6,"p":40.78,"p2":42.88}
    ],
    "hdr": [
      {"i":1.3,"p":69.94,"t":"ф","k":"label"},
      {"i":5.16,"p":69.94,"t":"CEWE STIFT.KGAA  O.N. [CWC GER  Täglich]","k":"label"},
      {"i":81.6,"p":69.94,"t":"28.12.2015 -","k":"label"},
      {"i":104.1,"p":69.94,"t":"O:54,00","k":"chg"},
      {"i":118.0,"p":69.94,"t":"H:54,00","k":"label"},
      {"i":131.4,"p":69.94,"t":"L:53,27","k":"label"},
      {"i":144.4,"p":69.94,"t":"C:53,69","k":"chg"},
      {"i":158.7,"p":69.94,"t":"+0,23","k":"chg"},
      {"i":168.8,"p":69.94,"t":"+0,43%","k":"chg"},
      {"i":1.1,"p":69.41,"t":"∿","k":"label"},
      {"i":5.16,"p":69.41,"t":"Moving Average Exponential(2) [Close, 100]","k":"label"},
      {"i":75.6,"p":69.41,"t":"53,08","k":"ema"},
      {"i":85.9,"p":69.41,"t":"+0,01","k":"chg"},
      {"i":96.0,"p":69.41,"t":"+0,02%","k":"chg"},
      {"i":109.1,"p":69.41,"t":"{CWC GER}","k":"label"},
      {"i":1.5,"p":68.76,"t":"©","k":"label"},
      {"i":5.16,"p":68.76,"t":"www.tradesignalonline.com","k":"label"},
      {"i":4.8,"p":56.13,"t":"56,03","k":"level"}
    ],
    "logo": [
      {"i":468.1,"i2":470.6,"p":41.1,"p2":41.85,"k":"a"},
      {"i":471.5,"i2":474.2,"p":41.1,"p2":42.18,"k":"b"},
      {"i":475.2,"i2":477.9,"p":41.1,"p2":42.45,"k":"c"}
    ],
    "brand": [
      {"i":479.2,"p":41.72,"t":"nuessa"},
      {"i":503.6,"p":41.0,"t":"TRADING"}
    ]
  },
  "layer": [
    {
      "data": {"name": "k"},
      "mark": {"type": "bar", "width": 2},
      "encoding": {
        "x": {"field": "i", "type": "quantitative", "scale": {"domain": [-0.2, 530.8], "nice": false, "zero": false}},
        "y": {"field": "v", "type": "quantitative", "scale": {"domain": [0, 500], "nice": false}, "axis": null},
        "color": {"condition": {"test": "datum.c < datum.o", "value": "#FF0000"}, "value": "#80FF00"}
      }
    },
    {
      "data": {"name": "bg"},
      "mark": {"type": "rect", "fill": "#FFFFFF"},
      "encoding": {
        "x": {"field": "i", "type": "quantitative", "scale": {"domain": [-0.2, 530.8], "nice": false, "zero": false}},
        "x2": {"field": "i2"},
        "y": {"field": "p", "type": "quantitative", "scale": {"domain": [38.48, 70.55], "nice": false, "zero": false}, "axis": null},
        "y2": {"field": "p2"}
      }
    },
    {
      "data": {"name": "ema"},
      "mark": {"type": "line", "color": "#808000", "strokeWidth": 1},
      "encoding": {
        "x": {"field": "i", "type": "quantitative", "scale": {"domain": [-0.2, 530.8], "nice": false, "zero": false}},
        "y": {"field": "m", "type": "quantitative", "scale": {"domain": [38.48, 70.55], "nice": false, "zero": false}, "axis": null}
      }
    },
    {
      "data": {"name": "k"},
      "mark": {"type": "rule", "color": "#000000", "strokeWidth": 1},
      "encoding": {
        "x": {
          "field": "i", "type": "quantitative",
          "scale": {"domain": [-0.2, 530.8], "nice": false, "zero": false},
          "axis": {
            "title": null, "orient": "bottom",
            "values": [9.5,29.5,50.5,70.5,91.5,112.5,135.5,156.5,178.5,201.5,221.5,240.5,261.5,281.5,303.5,323.5,343.5,365.5,388.5,409.5,431.5,453.5,474.5,495.5],
            "labelExpr": "datum.value < 20 ? 'Feb' : datum.value < 40 ? 'Mrz' : datum.value < 60 ? 'Apr' : datum.value < 80 ? 'Mai' : datum.value < 100 ? 'Jun' : datum.value < 120 ? 'Jul' : datum.value < 145 ? 'Aug' : datum.value < 165 ? 'Sep' : datum.value < 190 ? 'Okt' : datum.value < 210 ? 'Nov' : datum.value < 230 ? 'Dez' : datum.value < 250 ? '2015' : datum.value < 270 ? 'Feb' : datum.value < 290 ? 'Mrz' : datum.value < 310 ? 'Apr' : datum.value < 330 ? 'Mai' : datum.value < 350 ? 'Jun' : datum.value < 375 ? 'Jul' : datum.value < 395 ? 'Aug' : datum.value < 420 ? 'Sep' : datum.value < 440 ? 'Okt' : datum.value < 460 ? 'Nov' : datum.value < 485 ? 'Dez' : '2016'",
            "tickSize": 5, "offset": 1, "labelAlign": "left", "labelBaseline": "top", "labelPadding": 2, "labelOffset": 2,
            "labelFlush": false, "labelOverlap": false
          }
        },
        "y": {
          "field": "l", "type": "quantitative",
          "scale": {"domain": [38.48, 70.55], "nice": false, "zero": false},
          "axis": {
            "orient": "left", "values": [40,42,44,46,48,50,52,54,56,58,60,62,64,66,68],
            "labelExpr": "replace(format(datum.value, '.2f'), '.', ',')",
            "offset": 2, "tickSize": 5, "labelPadding": 2,
            "title": "€", "titleAngle": 0, "titleX": -18, "titleY": 10, "titleAlign": "center", "titleBaseline": "middle"
          }
        },
        "y2": {"field": "h"}
      }
    },
    {
      "data": {"name": "k"},
      "mark": {"type": "bar", "width": 2.2, "stroke": "#000000", "strokeWidth": 0.9},
      "encoding": {
        "x": {"field": "i", "type": "quantitative", "scale": {"domain": [-0.2, 530.8], "nice": false, "zero": false}},
        "y": {"field": "o", "type": "quantitative", "scale": {"domain": [38.48, 70.55], "nice": false, "zero": false}, "axis": null},
        "y2": {"field": "c"},
        "fill": {"condition": {"test": "datum.c < datum.o", "value": "#FF0000"}, "value": "#FFFFFF"}
      }
    },
    {
      "data": {"name": "band"},
      "mark": {"type": "line", "color": "#0000FF", "strokeWidth": 1},
      "encoding": {
        "x": {"field": "i", "type": "quantitative", "scale": {"domain": [-0.2, 530.8], "nice": false, "zero": false}},
        "y": {"field": "b", "type": "quantitative", "scale": {"domain": [38.48, 70.55], "nice": false, "zero": false}, "axis": null}
      }
    },
    {
      "data": {"values": [{"level": 56.03}]},
      "mark": {"type": "rule", "color": "#FF0000", "strokeWidth": 1},
      "encoding": {
        "y": {
          "field": "level", "type": "quantitative",
          "scale": {"domain": [38.48, 70.55], "nice": false, "zero": false},
          "axis": {
            "orient": "right", "values": [40,42,44,46,48,50,52,54,56,58,60,62,64,66,68],
            "labelExpr": "replace(format(datum.value, '.2f'), '.', ',')",
            "tickSize": 5, "labelPadding": 2,
            "title": "€", "titleAngle": 0, "titleX": 8, "titleY": 10, "titleAlign": "center", "titleBaseline": "middle"
          }
        }
      }
    },
    {
      "data": {"name": "waveA"},
      "mark": {"type": "line", "color": "#FF0000", "strokeWidth": 5, "strokeJoin": "miter"},
      "encoding": {
        "x": {"field": "i", "type": "quantitative", "scale": {"domain": [-0.2, 530.8], "nice": false, "zero": false}},
        "y": {"field": "p", "type": "quantitative", "scale": {"domain": [38.48, 70.55], "nice": false, "zero": false}, "axis": null}
      }
    },
    {
      "data": {"name": "waveB"},
      "mark": {"type": "line", "color": "#FF0000", "strokeWidth": 2.5, "strokeJoin": "miter"},
      "encoding": {
        "x": {"field": "i", "type": "quantitative", "scale": {"domain": [-0.2, 530.8], "nice": false, "zero": false}},
        "y": {"field": "p", "type": "quantitative", "scale": {"domain": [38.48, 70.55], "nice": false, "zero": false}, "axis": null}
      }
    },
    {
      "data": {"name": "proj"},
      "mark": {"type": "line", "color": "#33CC33", "strokeWidth": 3, "strokeJoin": "miter"},
      "encoding": {
        "x": {"field": "i", "type": "quantitative", "scale": {"domain": [-0.2, 530.8], "nice": false, "zero": false}},
        "y": {"field": "p", "type": "quantitative", "scale": {"domain": [38.48, 70.55], "nice": false, "zero": false}, "axis": null}
      }
    },
    {
      "data": {"name": "hdr"},
      "mark": {"type": "text", "align": "left", "baseline": "alphabetic", "fontSize": 10.5, "font": "Liberation Sans"},
      "encoding": {
        "x": {"field": "i", "type": "quantitative", "scale": {"domain": [-0.2, 530.8], "nice": false, "zero": false}},
        "y": {"field": "p", "type": "quantitative", "scale": {"domain": [38.48, 70.55], "nice": false, "zero": false}, "axis": null},
        "text": {"field": "t"},
        "color": {"field": "k", "type": "nominal", "scale": {"domain": ["label", "chg", "ema", "level"], "range": ["#000000", "#00AA00", "#808000", "#FF0000"]}, "legend": null}
      }
    },
    {
      "data": {"name": "logo"},
      "mark": {"type": "rect", "cornerRadius": 2},
      "encoding": {
        "x": {"field": "i", "type": "quantitative", "scale": {"domain": [-0.2, 530.8], "nice": false, "zero": false}},
        "x2": {"field": "i2"},
        "y": {"field": "p", "type": "quantitative", "scale": {"domain": [38.48, 70.55], "nice": false, "zero": false}, "axis": null},
        "y2": {"field": "p2"},
        "fill": {"field": "k", "type": "nominal", "scale": {"domain": ["a", "b", "c"], "range": ["#4F86D8", "#0E650E", "#7CB2EE"]}, "legend": null}
      }
    },
    {
      "data": {"name": "brand"},
      "transform": [{"filter": "datum.t == 'nuessa'"}],
      "mark": {"type": "text", "align": "left", "baseline": "alphabetic", "fontSize": 34, "font": "DejaVu Sans", "fontWeight": "bold", "color": "#6B6B6B"},
      "encoding": {
        "x": {"field": "i", "type": "quantitative", "scale": {"domain": [-0.2, 530.8], "nice": false, "zero": false}},
        "y": {"field": "p", "type": "quantitative", "scale": {"domain": [38.48, 70.55], "nice": false, "zero": false}, "axis": null},
        "text": {"field": "t"}
      }
    },
    {
      "data": {"name": "brand"},
      "transform": [{"filter": "datum.t == 'TRADING'"}],
      "mark": {"type": "text", "align": "center", "baseline": "alphabetic", "fontSize": 19, "font": "DejaVu Sans", "fontWeight": "bold", "color": "#6B6B6B"},
      "encoding": {
        "x": {"field": "i", "type": "quantitative", "scale": {"domain": [-0.2, 530.8], "nice": false, "zero": false}},
        "y": {"field": "p", "type": "quantitative", "scale": {"domain": [38.48, 70.55], "nice": false, "zero": false}, "axis": null},
        "text": {"field": "t"}
      }
    }
  ],
  "resolve": {"scale": {"y": "independent"}}
}
